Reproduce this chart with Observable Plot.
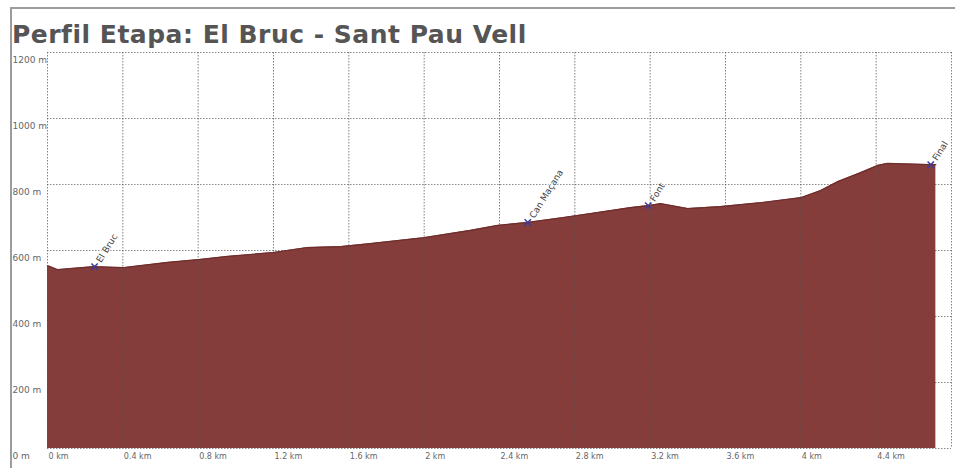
<!DOCTYPE html>
<html>
<head>
<meta charset="utf-8">
<script src="https://cdn.jsdelivr.net/npm/d3@7"></script>
<script src="https://cdn.jsdelivr.net/npm/@observablehq/plot@0.6"></script>
<style>
  html, body { margin: 0; padding: 0; background: #fff; width: 955px; height: 468px; overflow: hidden; }
  #frame { position: absolute; left: 10px; top: 7px; width: 950px; height: 470px;
           border-top: 2px solid #9c9c9c; border-left: 2px solid #9c9c9c; box-sizing: border-box; }
  #title { position: absolute; left: 12px; top: 22px; font-family: "DejaVu Sans", Verdana, sans-serif;
           font-weight: bold; font-size: 25px; line-height: 25px; letter-spacing: 0.5px; color: #555; white-space: nowrap; }
  #chart { position: absolute; left: 0; top: 48px; }
</style>
</head>
<body>
<div id="frame"></div>
<div id="title">Perfil Etapa: El Bruc - Sant Pau Vell</div>
<div id="chart"></div>
<script>
// Elevation profile (distance in km, elevation in m)
const distKm = [0, 0.053, 0.244, 0.404, 0.637, 0.813, 0.956, 1.2, 1.38, 1.56, 1.716, 2.0, 2.247, 2.39, 2.55, 2.74, 2.885, 3.097, 3.19, 3.256, 3.4, 3.575, 3.787, 4.0, 4.106, 4.197, 4.319, 4.41, 4.46, 4.69, 4.717];
const elevM  = [554, 542, 551, 548, 564, 573, 582, 594, 609, 612, 621, 639, 661, 676, 685, 700, 712, 730, 736, 742, 727, 733, 745, 760, 782, 809, 836, 858, 864, 860, 860];

// Waypoints
const wpKm   = [0.25, 2.55, 3.19, 4.69];
const wpElev = [551, 685, 736, 860];
const wpName = ["El Bruc", "Can Maçana", "Font", "Final"];

// Ticks
const yTicks = [0, 200, 400, 600, 800, 1000, 1200];
const xTicks = [0, 0.4, 0.8, 1.2, 1.6, 2, 2.4, 2.8, 3.2, 3.6, 4, 4.4];
const xGrid  = [0, 0.4, 0.8, 1.2, 1.6, 2, 2.4, 2.8, 3.2, 3.6, 4, 4.4, 4.8];

const profile = distKm.map((k, i) => ({km: k, elev: elevM[i]}));
const waypoints = wpKm.map((k, i) => ({km: k, elev: wpElev[i], name: wpName[i]}));

const chart = Plot.plot({
  width: 955,
  height: 420,
  marginTop: 4,
  marginRight: 4,
  marginBottom: 20,
  marginLeft: 47,
  style: {fontFamily: "DejaVu Sans, sans-serif", fontSize: "8px", color: "#666", background: "transparent", overflow: "visible"},
  x: {domain: [0, 4.8], label: null},
  y: {domain: [0, 1200], label: null},
  marks: [
    Plot.ruleY(yTicks, {stroke: "#888", strokeDasharray: "1.5,1.5"}),
    Plot.areaY(profile, {x: "km", y: "elev", fill: "#843d3b"}),
    Plot.lineY(profile, {x: "km", y: "elev", stroke: "#6e2d2b", strokeWidth: 1.2}),
    Plot.ruleX(xGrid, {stroke: "#555", strokeDasharray: "1.5,1.5", strokeOpacity: 0.75}),
    Plot.axisY(yTicks, {tickSize: 0, tickPadding: 0, textAnchor: "start", dx: -35, dy: 8, fontSize: 9, fill: "#666", label: null, tickFormat: d => `${d} m`}),
    Plot.axisX(xTicks, {tickSize: 0, tickPadding: 5, textAnchor: "start", dx: 1, fill: "#666", label: null, tickFormat: d => `${d} km`}),
    Plot.dot(waypoints, {x: "km", y: "elev", symbol: "times", r: 3, stroke: "#3b3b9c", strokeWidth: 1.5}),
    Plot.text(waypoints, {x: "km", y: "elev", text: "name", rotate: -58, textAnchor: "start", dx: 4, dy: -5, fontSize: 9, fill: "#444", stroke: "white", strokeWidth: 2})
  ]
});
document.getElementById("chart").appendChild(chart);
</script>
</body>
</html>
